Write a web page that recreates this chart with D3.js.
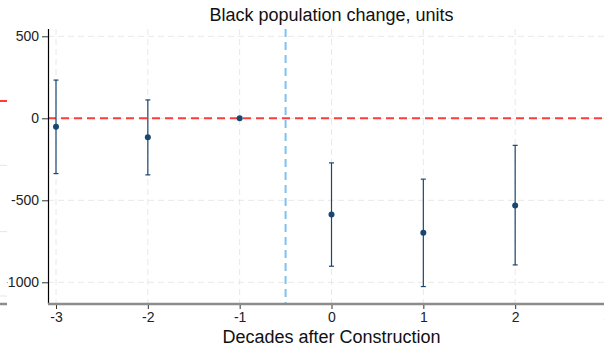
<!DOCTYPE html>
<html>
<head>
<meta charset="utf-8">
<script src="https://cdn.jsdelivr.net/npm/d3@7"></script>
<style>
  body { margin: 0; background: #fff; }
  svg { display: block; font-family: "Liberation Sans", Arial, sans-serif; }
</style>
</head>
<body>
<svg id="chart"></svg>
<script>
// decades relative to construction
const decades = [-3, -2, -1, 0, 1, 2];
const estimates = [-52, -116, 0, -586, -698, -531];
const ciLow = [-337, -345, null, -902, -1026, -894];
const ciHigh = [233, 112, null, -272, -371, -165];
const xTicks = [-3, -2, -1, 0, 1, 2, 3];
const yTicks = [500, 0, -500, -1000];

const w = 604, h = 347;
const svg = d3.select("#chart").attr("width", w).attr("height", h);

const navy = "#1a476f";

// scales
const x = d3.scaleLinear().domain([-3, 3]).range([56, 607]);
const y = d3.scaleLinear().domain([0, -1000]).range([118.3, 282.3]);
const plotTop = 29, plotBottom = 304, plotLeft = 48;
const fmt = d => String(d);

// grid
svg.append("g").selectAll("line")
  .data(yTicks)
  .join("line")
    .attr("x1", plotLeft).attr("x2", w)
    .attr("y1", d => y(d)).attr("y2", d => y(d))
    .attr("stroke", "#e8e8e8").attr("stroke-width", 1)
    .attr("stroke-dasharray", "6,4");
svg.append("g").selectAll("line")
  .data(xTicks)
  .join("line")
    .attr("x1", d => x(d)).attr("x2", d => x(d))
    .attr("y1", plotTop).attr("y2", plotBottom)
    .attr("stroke", "#e8e8e8").attr("stroke-width", 1)
    .attr("stroke-dasharray", "6,4");

// reference lines
svg.append("line")
  .attr("x1", plotLeft).attr("x2", w)
  .attr("y1", y(0)).attr("y2", y(0))
  .attr("stroke", "#ff3b3b").attr("stroke-width", 2)
  .attr("stroke-dasharray", "8,5");
svg.append("line")
  .attr("x1", x(-0.5)).attr("x2", x(-0.5))
  .attr("y1", plotTop).attr("y2", plotBottom)
  .attr("stroke", "#7fc2ee").attr("stroke-width", 2)
  .attr("stroke-dasharray", "8,5");

// confidence intervals
const rows = decades.map((d, i) => ({ d, est: estimates[i], lo: ciLow[i], hi: ciHigh[i] }));
const ci = svg.append("g").selectAll("g")
  .data(rows.filter(r => r.lo !== null))
  .join("g");
ci.append("line")
  .attr("x1", r => x(r.d)).attr("x2", r => x(r.d))
  .attr("y1", r => y(r.hi)).attr("y2", r => y(r.lo))
  .attr("stroke", navy).attr("stroke-width", 1.2);
ci.append("line")
  .attr("x1", r => x(r.d) - 2.5).attr("x2", r => x(r.d) + 2.5)
  .attr("y1", r => y(r.hi)).attr("y2", r => y(r.hi))
  .attr("stroke", navy).attr("stroke-width", 1.2);
ci.append("line")
  .attr("x1", r => x(r.d) - 2.5).attr("x2", r => x(r.d) + 2.5)
  .attr("y1", r => y(r.lo)).attr("y2", r => y(r.lo))
  .attr("stroke", navy).attr("stroke-width", 1.2);

// point estimates
svg.append("g").selectAll("circle")
  .data(rows)
  .join("circle")
    .attr("cx", r => x(r.d)).attr("cy", r => y(r.est))
    .attr("r", 3).attr("fill", navy);

// axes
const yAxis = svg.append("g")
  .attr("transform", `translate(${plotLeft},0)`)
  .call(d3.axisLeft(y).tickValues(yTicks).tickFormat(fmt).tickSize(6).tickPadding(3).tickSizeOuter(0));
yAxis.select(".domain").remove();
yAxis.selectAll(".tick line").attr("stroke", "#333");
yAxis.selectAll("text").attr("font-size", 14).attr("fill", "#222")
  .attr("font-family", "Liberation Sans, Arial, sans-serif");
svg.append("line")
  .attr("x1", plotLeft + 0.5).attr("x2", plotLeft + 0.5)
  .attr("y1", plotTop).attr("y2", plotBottom)
  .attr("stroke", "#000").attr("stroke-width", 1.2);

const xAxis = svg.append("g")
  .attr("transform", `translate(0,${plotBottom})`)
  .call(d3.axisBottom(x).tickValues(xTicks).tickFormat(fmt).tickSize(5).tickPadding(3).tickSizeOuter(0));
xAxis.select(".domain").remove();
xAxis.selectAll(".tick line").attr("stroke", "#333");
xAxis.selectAll("text").attr("font-size", 14).attr("fill", "#222")
  .attr("font-family", "Liberation Sans, Arial, sans-serif");
svg.append("line")
  .attr("x1", plotLeft).attr("x2", w)
  .attr("y1", plotBottom).attr("y2", plotBottom)
  .attr("stroke", "#8c8c8c").attr("stroke-width", 2.5);

// titles
svg.append("text")
  .attr("x", x(0)).attr("y", 21)
  .attr("text-anchor", "middle")
  .attr("font-size", 18).attr("fill", "#111")
  .text("Black population change, units");
svg.append("text")
  .attr("x", x(0)).attr("y", 343)
  .attr("text-anchor", "middle")
  .attr("font-size", 18).attr("fill", "#111")
  .text("Decades after Construction");

// neighbouring panel edge at the left, drawn over this panel's margin
const leftW = 7;
const left = svg.append("g");
left.append("rect").attr("x", 0).attr("y", 0).attr("width", leftW).attr("height", h).attr("fill", "#fff");
const yLeft = d3.scaleLinear().domain([0, -1000]).range([101, 296]);
left.selectAll(".lg")
  .data([-330, -670, -1000])
  .join("line")
    .attr("x1", 0).attr("x2", leftW)
    .attr("y1", d => yLeft(d)).attr("y2", d => yLeft(d))
    .attr("stroke", "#e6e6e6").attr("stroke-width", 1);
left.append("line")
  .attr("x1", 0).attr("x2", leftW).attr("y1", yLeft(0)).attr("y2", yLeft(0))
  .attr("stroke", "#ff3b3b").attr("stroke-width", 2);
left.append("line")
  .attr("x1", 0).attr("x2", leftW).attr("y1", 304).attr("y2", 304)
  .attr("stroke", "#8c8c8c").attr("stroke-width", 2.5);
</script>
</body>
</html>
